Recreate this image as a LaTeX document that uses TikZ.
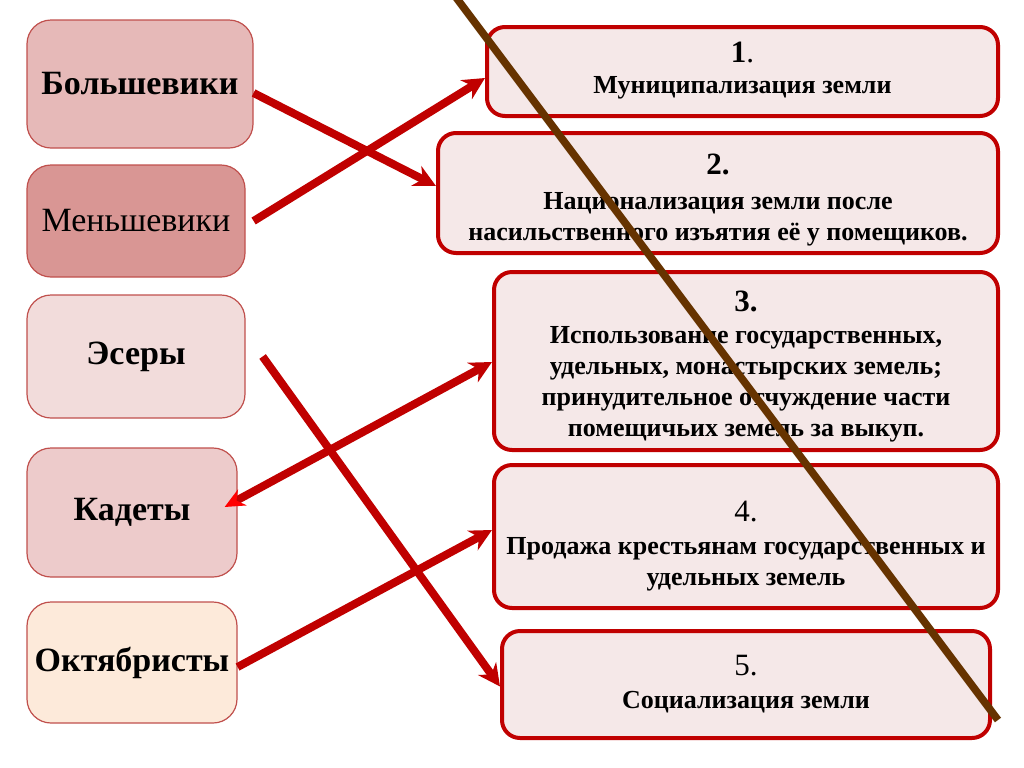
\documentclass[tikz,border=0pt]{standalone}
\usepackage{fontspec}
\setmainfont{Liberation Serif}
\usetikzlibrary{arrows.meta}
\definecolor{darkred}{HTML}{C00000}
\definecolor{partyedge}{HTML}{C0504D}
\definecolor{bolfill}{HTML}{E6B9B8}
\definecolor{menfill}{HTML}{D99694}
\definecolor{serfill}{HTML}{F2DCDB}
\definecolor{kadfill}{HTML}{EDCBCB}
\definecolor{oktfill}{HTML}{FDEADA}
\definecolor{planfill}{HTML}{F5E8E8}
\definecolor{slashbrown}{HTML}{663300}
\newcommand{\numfont}{\fontsize{15.5}{18}\selectfont}
\begin{document}
\begin{tikzpicture}[x=0.5pt, y=-0.5pt,
    party/.style={draw=partyedge, line width=0.6pt, rounded corners=12pt, align=center,
        inner sep=0pt, font=\fontsize{17}{21}\selectfont\bfseries},
    plan/.style={draw=darkred, line width=2pt, fill=planfill, rounded corners=9pt, align=center,
        inner sep=0pt, font=\fontsize{13}{15.5}\selectfont\bfseries},
    link/.style={draw=darkred, line width=4pt, -{Stealth[length=11pt,width=11pt]}}]
    \useasboundingbox (0,0) rectangle (1024,767);

    % Parties
    \node[party, fill=bolfill, minimum width=113pt, minimum height=64pt] (bol) at (140,84) {Большевики};
    \node[party, fill=menfill, minimum width=109pt, minimum height=56pt, font=\fontsize{17}{21}\selectfont] (men) at (136,221) {Меньшевики};
    \node[party, fill=serfill, minimum width=109pt, minimum height=61.5pt] (ser) at (136,356.5) {Эсеры};
    \node[party, fill=kadfill, minimum width=105pt, minimum height=64.5pt] (kad) at (132,512.5) {Кадеты};
    \node[party, fill=oktfill, minimum width=105pt, minimum height=60.5pt] (okt) at (132,662.5) {Октябристы};

    % Land programmes
    \node[plan, minimum width=255.5pt, minimum height=44.5pt] (r1) at (742.5,71.5)
        {{\numfont 1}{\numfont\mdseries .}\\[0pt] Муниципализация земли\rule[-4pt]{0pt}{4pt}};
    \node[plan, minimum width=280pt, minimum height=60pt] (r2) at (718,193)
        {{\numfont\rule{0pt}{17pt}2.}\\[2pt] Национализация земли после\\ насильственного изъятия её у помещиков.};
    \node[plan, minimum width=252pt, minimum height=89pt] (r3) at (746,361)
        {{\numfont\rule{0pt}{16pt}3.}\\[0.5pt] Использование государственных,\\ удельных, монастырских земель;\\
         принудительное отчуждение части\\ помещичьих земель за выкуп.};
    \node[plan, minimum width=252pt, minimum height=71.5pt] (r4) at (746,536.5)
        {{\numfont\mdseries\rule{0pt}{20pt}4.}\\[1pt] Продажа крестьянам государственных и\\ удельных земель};
    \node[plan, minimum width=244pt, minimum height=53.5pt] (r5) at (746,684.5)
        {{\numfont\mdseries 5.}\\[1pt] Социализация земли};

    % Links
    \draw[link] ([yshift=-4.5pt]bol.east) -- ([yshift=3.5pt]r2.west);
    \draw[link] ([xshift=4pt]men.east) -- ([yshift=-3.25pt]r1.west);
    \draw[link] ([xshift=8.5pt]ser.east) -- ([yshift=-1pt]r5.west);
    \draw[link, {Stealth[length=10pt,width=9pt,color=red]}-{Stealth[length=11pt,width=11pt]}]
        ([xshift=-6.5pt,yshift=2.75pt]kad.east) -- ([yshift=-0.5pt]r3.west);
    \draw[link] ([yshift=-2.25pt]okt.east) -- ([yshift=3.25pt]r4.west);

    % Crossing-out line
    \coordinate (slashtop) at (455,-4);
    \coordinate (slashend) at (998,720);
    \draw[slashbrown, line width=3.8pt] (slashtop) -- (slashend);
\end{tikzpicture}
\end{document}
